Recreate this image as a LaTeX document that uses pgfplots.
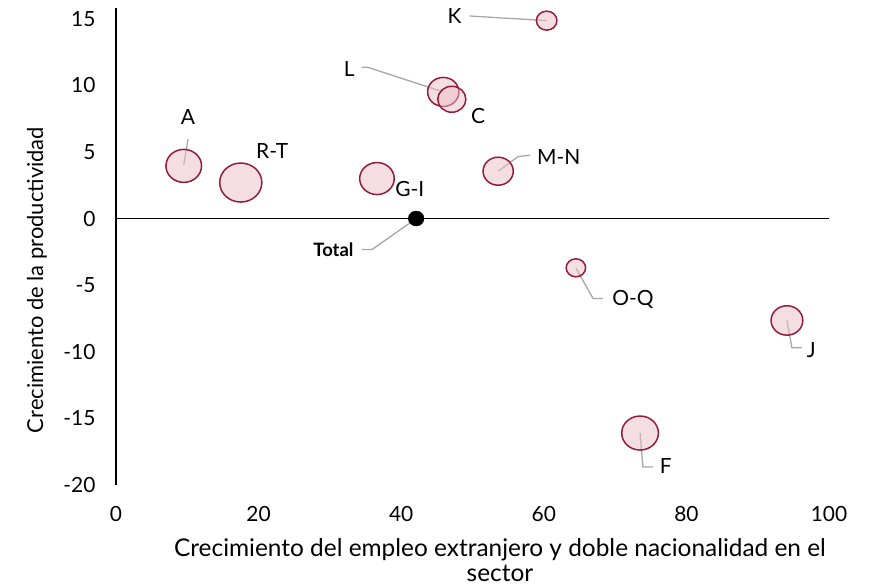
\documentclass[border=0pt]{standalone}
\usepackage{pgfplots}
\pgfplotsset{compat=1.18}
\usepackage{fontspec}
\setmainfont{Lato}
\definecolor{edge}{RGB}{145,28,60}
\definecolor{bfill}{RGB}{236,190,198}
\definecolor{lead}{RGB}{166,166,166}
\pgfplotsset{bub/.style={only marks, mark=*, mark size=#1,
  mark options={draw=edge, fill=bfill, fill opacity=0.5, line width=1.5pt, xscale=1.08}}}
\begin{document}
\begin{tikzpicture}
\begin{axis}[
  scale only axis, width=713bp, height=477bp,
  xmin=0, xmax=100, ymin=-20, ymax=15.8,
  axis line style={draw=none},
  major tick length=0pt,
  xtick={0,20,...,100}, ytick={-20,-15,...,15},
  ticklabel style={font=\fontsize{21}{25}\selectfont},
  xticklabel style={yshift=-18bp},
  yticklabel style={xshift=-17bp},
  /pgf/number format/assume math mode=true,
  clip=false,
]
\coordinate (sw) at (rel axis cs:0,0);
\addplot[black, line width=1.4pt] coordinates {(0,-20) (0,15.8)};
\addplot[black, line width=1.4pt] coordinates {(0,0) (100,0)};
\addplot[bub=16.5bp] coordinates {(9.5,3.95)};    % A
\addplot[bub=19.5bp] coordinates {(17.5,2.7)};    % R-T
\addplot[bub=16bp]   coordinates {(36.6,3.0)};    % G-I
\addplot[bub=14.5bp] coordinates {(45.9,9.5)};    % L
\addplot[bub=13bp]   coordinates {(47.1,8.95)};   % C
\addplot[bub=14bp]   coordinates {(53.6,3.55)};   % M-N
\addplot[bub=9.5bp]  coordinates {(60.4,14.85)};  % K
\addplot[bub=9bp]    coordinates {(64.5,-3.7)};   % O-Q
\addplot[bub=17bp]   coordinates {(73.5,-16.1)};  % F
\addplot[bub=14.7bp] coordinates {(94.1,-7.65)};  % J
\addplot[only marks, mark=*, mark size=7.5bp, black, mark options={xscale=1.05}] coordinates {(42.1,0)}; % Total
% leader lines
\draw[lead, line width=1.3pt] (axis cs:49.6,15.2) -- (axis cs:60.4,14.85);
\draw[lead, line width=1.3pt] (axis cs:34.5,11.35) -- (axis cs:35.3,11.35) -- (axis cs:45.9,9.5);
\draw[lead, line width=1.3pt] (axis cs:53.6,3.55) -- (axis cs:56.4,4.65) -- (axis cs:58.1,4.75);
\draw[lead, line width=1.3pt] (axis cs:42.1,0) -- (axis cs:35.9,-2.33) -- (axis cs:34.5,-2.33);
\draw[lead, line width=1.3pt] (axis cs:10.1,5.95) -- (axis cs:9.5,4.05);
\draw[lead, line width=1.3pt] (axis cs:64.5,-3.7) -- (axis cs:66.9,-6.0) -- (axis cs:68.3,-6.0);
\draw[lead, line width=1.3pt] (axis cs:73.5,-16.1) -- (axis cs:73.9,-18.65) -- (axis cs:75.3,-18.65);
\draw[lead, line width=1.3pt] (axis cs:94.1,-7.65) -- (axis cs:94.8,-9.7) -- (axis cs:96.2,-9.7);
% labels
\begin{scope}[every node/.style={font=\fontsize{21}{25}\selectfont, inner sep=0pt}]
\node at (axis cs:47.5,15.2) {K};
\node at (axis cs:32.7,11.2) {L};
\node at (axis cs:50.8,7.7) {C};
\node at (axis cs:10.1,7.6) {A};
\node at (axis cs:21.9,5.05) {R-T};
\node at (axis cs:41.2,2.2) {G-I};
\node at (axis cs:62.1,4.65) {M-N};
\node at (axis cs:72.5,-6.1) {O-Q};
\node at (axis cs:77.1,-18.6) {F};
\node at (axis cs:97.5,-9.85) {J};
\end{scope}
\node[font=\fontsize{18.5}{22}\selectfont\bfseries, inner sep=0pt] at (axis cs:30.5,-2.33) {Total};
\end{axis}
\node[font=\fontsize{24.5}{25}\selectfont, align=center, inner sep=0pt] at ([shift={(384bp,-75bp)}]sw)
  {Crecimiento del empleo extranjero y doble nacionalidad en el\\sector};
\node[font=\fontsize{22}{26}\selectfont, rotate=90, inner sep=0pt] at ([shift={(-79bp,205bp)}]sw)
  {Crecimiento de la productividad};
\pgfresetboundingbox
\path ([shift={(-116bp,-103bp)}]sw) rectangle ([shift={(765bp,485bp)}]sw);
\end{tikzpicture}
\end{document}
